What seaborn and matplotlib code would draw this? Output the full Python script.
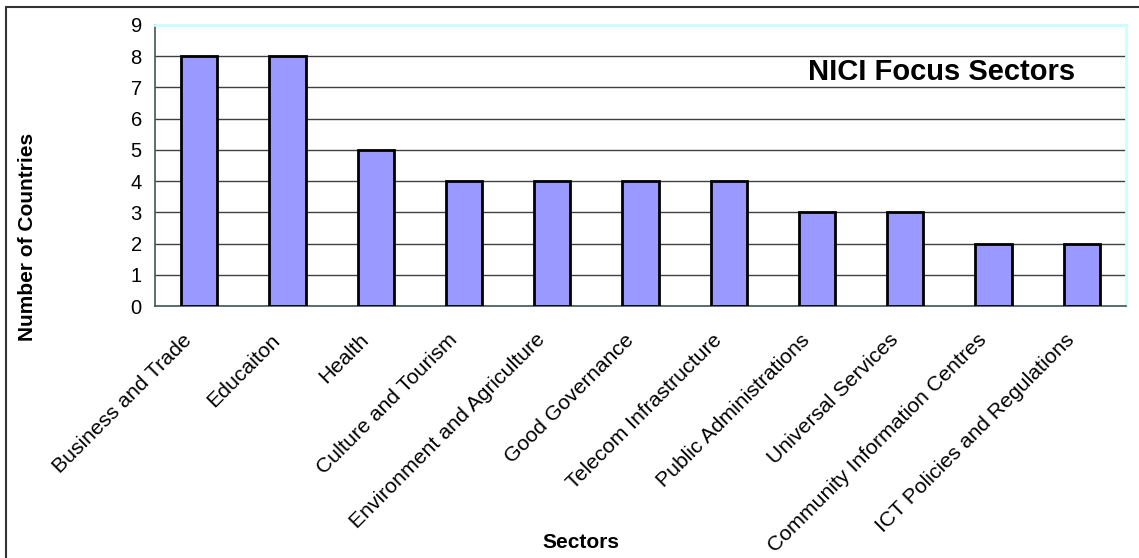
import numpy as np
import pandas as pd
import seaborn as sns
import matplotlib.pyplot as plt
import matplotlib.transforms as mtransforms
from matplotlib.lines import Line2D

# data
sectors = ["Business and Trade", "Educaiton", "Health", "Culture and Tourism",
           "Environment and Agriculture", "Good Governance", "Telecom Infrastructure",
           "Public Administrations", "Universal Services", "Community Information Centres",
           "ICT Policies and Regulations"]
countries = [8, 8, 5, 4, 4, 4, 4, 3, 3, 2, 2]
y_ticks = list(range(0, 10))

df = pd.DataFrame({"Sector": sectors, "Countries": countries})

sns.set_style("white")
plt.rcParams['font.family'] = ['Liberation Sans', 'DejaVu Sans']
plt.rcParams['text.color'] = 'black'
plt.rcParams['xtick.labelcolor'] = 'black'
plt.rcParams['ytick.labelcolor'] = 'black'

W, H = 1139, 558
fig = plt.figure(figsize=(W / 100, H / 100), dpi=100)
ax = fig.add_axes([155 / W, 1 - 306 / H, (1126 - 155) / W, (306 - 25) / H])

sns.barplot(data=df, x="Sector", y="Countries", color="#9999FF", saturation=1,
            edgecolor="black", linewidth=2, width=0.41, ax=ax, zorder=3)

ax.set_xlim(-0.5, len(sectors) - 0.5)
ax.set_ylim(0, 9)
ax.set_yticks(y_ticks)
ax.yaxis.grid(True, color="#404040", linewidth=1, zorder=0)
ax.set_axisbelow(True)

# category ticks sit between bars, like Excel
ax.set_xticks(np.arange(len(sectors)))
ax.set_xticks(np.arange(-0.5, len(sectors)), minor=True)
ax.tick_params(axis="x", which="major", length=0, pad=10)
ax.tick_params(axis="x", which="minor", length=6, width=1, color="#405858", direction="out")
ax.tick_params(axis="y", length=6, width=1, color="#405858", direction="out",
               labelsize=14.5, labelcolor="black")
ax.set_xticklabels(sectors, rotation=45, ha="right", va="center",
                   rotation_mode="anchor", fontsize=15.3, color="black")

# nudge the slanted labels down-left, where Excel puts them
shift = mtransforms.ScaledTranslation(-10 / 100, -17 / 100, fig.dpi_scale_trans)
for lbl in ax.get_xticklabels():
    lbl.set_transform(lbl.get_transform() + shift)

for side in ["left", "bottom"]:
    ax.spines[side].set_color("#405858")
    ax.spines[side].set_linewidth(1.2)
for side in ["top", "right"]:
    ax.spines[side].set_color("#ccffff")
    ax.spines[side].set_linewidth(2)

ax.set_xlabel("")
ax.set_ylabel("")

fig.text(28 / W, 1 - 237 / H, "Number of Countries", rotation=90, fontsize=15,
         fontweight="bold", ha="center", va="center", color="black")
fig.text(581 / W, 1 - 542 / H, "Sectors", fontsize=15, fontweight="bold",
         ha="center", va="center", color="black")
fig.text(942 / W, 1 - 72 / H, "NICI Focus Sectors", fontsize=21, fontweight="bold",
         ha="center", va="center", color="black")

# chart area border (only left and top edges visible in the crop)
fig.add_artist(Line2D([6 / W, 6 / W], [0, 1 - 7 / H], transform=fig.transFigure,
                      color="#333333", linewidth=1.5))
fig.add_artist(Line2D([6 / W, 1], [1 - 7 / H, 1 - 7 / H], transform=fig.transFigure,
                      color="#333333", linewidth=1.5))

fig.savefig("out.png", dpi=100)
